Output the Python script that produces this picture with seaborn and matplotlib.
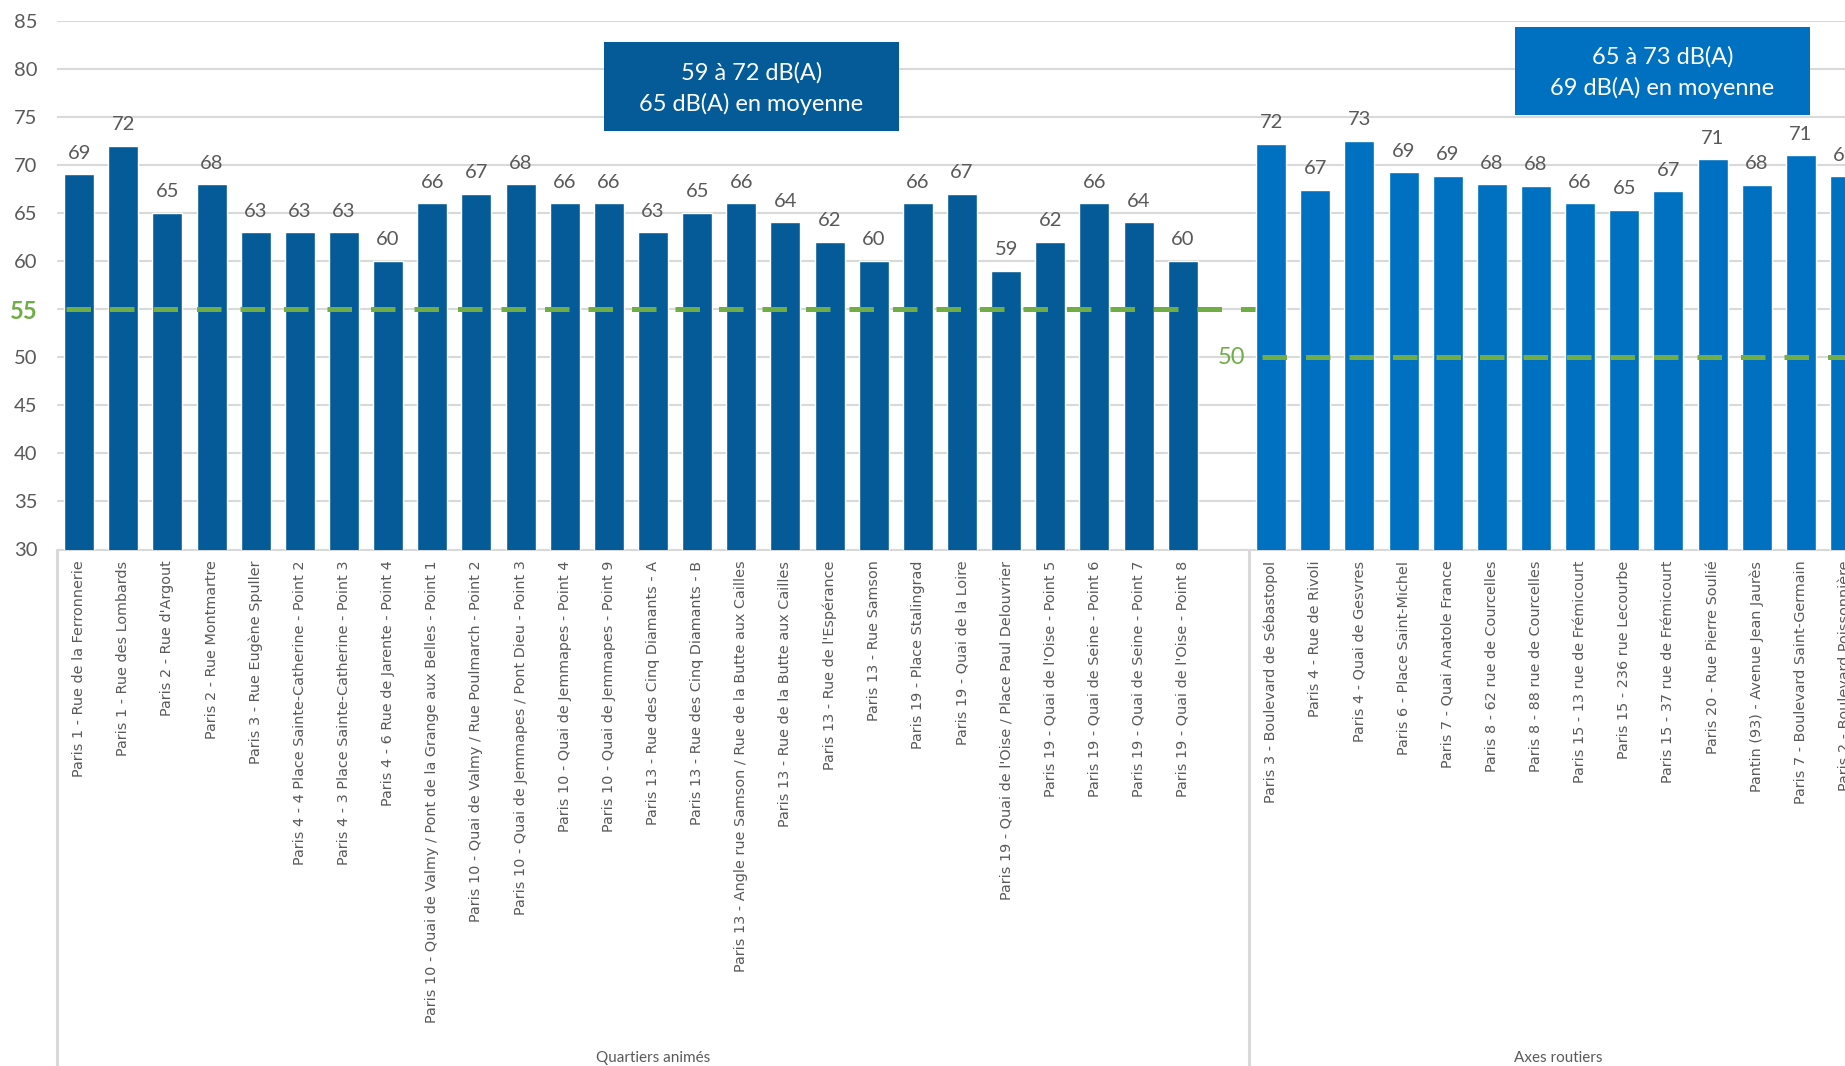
import numpy as np
import pandas as pd
import matplotlib
matplotlib.use("Agg")
import matplotlib.pyplot as plt
import matplotlib.transforms as mtransforms
from matplotlib.patches import Rectangle
import seaborn as sns

# ---------------- data ----------------
quartiers_labels = [
    "Paris 1 - Rue de la Ferronnerie",
    "Paris 1 - Rue des Lombards",
    "Paris 2 - Rue d'Argout",
    "Paris 2 - Rue Montmartre",
    "Paris 3 - Rue Eugène Spuller",
    "Paris 4 - 4 Place Sainte-Catherine - Point 2",
    "Paris 4 - 3 Place Sainte-Catherine - Point 3",
    "Paris 4 - 6 Rue de Jarente - Point 4",
    "Paris 10 - Quai de Valmy / Pont de la Grange aux Belles - Point 1",
    "Paris 10 - Quai de Valmy / Rue Poulmarch - Point 2",
    "Paris 10 - Quai de Jemmapes / Pont Dieu - Point 3",
    "Paris 10 - Quai de Jemmapes - Point 4",
    "Paris 10 - Quai de Jemmapes - Point 9",
    "Paris 13 - Rue des Cinq Diamants - A",
    "Paris 13 - Rue des Cinq Diamants - B",
    "Paris 13 - Angle rue Samson / Rue de la Butte aux Cailles",
    "Paris 13 - Rue de la Butte aux Cailles",
    "Paris 13 - Rue de l'Espérance",
    "Paris 13 - Rue Samson",
    "Paris 19 - Place Stalingrad",
    "Paris 19 - Quai de la Loire",
    "Paris 19 - Quai de l'Oise / Place Paul Delouvrier",
    "Paris 19 - Quai de l'Oise - Point 5",
    "Paris 19 - Quai de Seine - Point 6",
    "Paris 19 - Quai de Seine - Point 7",
    "Paris 19 - Quai de l'Oise - Point 8",
]
quartiers_values = [69, 72, 65, 68, 63, 63, 63, 60, 66, 67, 68, 66, 66,
                    63, 65, 66, 64, 62, 60, 66, 67, 59, 62, 66, 64, 60]

routes_labels = [
    "Paris 3 - Boulevard de Sébastopol",
    "Paris 4 - Rue de Rivoli",
    "Paris 4 - Quai de Gesvres",
    "Paris 6 - Place Saint-Michel",
    "Paris 7 - Quai Anatole France",
    "Paris 8 - 62 rue de Courcelles",
    "Paris 8 - 88 rue de Courcelles",
    "Paris 15 - 13 rue de Frémicourt",
    "Paris 15 - 236 rue Lecourbe",
    "Paris 15 - 37 rue de Frémicourt",
    "Paris 20 - Rue Pierre Soulié",
    "Pantin (93) - Avenue Jean Jaurès",
    "Paris 7 - Boulevard Saint-Germain",
    "Paris 2 - Boulevard Poissonnière",
]
routes_values = [72.2, 67.4, 72.5, 69.2, 68.85, 68.0, 67.8, 66.0, 65.3,
                 67.25, 70.6, 67.9, 71.0, 68.8]

group_names = ["Quartiers animés", "Axes routiers"]
seuils = [55, 50]
box_quartiers = ["59 à 72 dB(A)", "65 dB(A) en moyenne"]
box_routes = ["65 à 73 dB(A)", "69 dB(A) en moyenne"]
yticks = list(range(30, 90, 5))

# ---------------- style ----------------
C_Q = "#045B97"
C_R = "#0070C0"
GREEN = "#70AD47"
GREY = "#595959"
GRID = "#D9D9D9"

sns.set_theme(style="white")
plt.rcParams["font.family"] = ["DejaVu Sans"]

W, H = 1845, 1066
fig = plt.figure(figsize=(W / 100, H / 100), dpi=100)

left_px, top_px, bottom_px = 57, 20.5, 549.5
ax = fig.add_axes([left_px / W, 1 - bottom_px / H, 1 - left_px / W, (bottom_px - top_px) / H])

df = pd.DataFrame({
    "lieu": quartiers_labels + routes_labels,
    "niveau": quartiers_values + routes_values,
    "groupe": [group_names[0]] * len(quartiers_labels) + [group_names[1]] * len(routes_labels),
})
gap_label = " "
order = quartiers_labels + [gap_label] + routes_labels

sns.barplot(data=df, x="lieu", y="niveau", hue="groupe", order=order,
            hue_order=group_names, palette={group_names[0]: C_Q, group_names[1]: C_R},
            dodge=False, width=0.68, saturation=1, errorbar=None, legend=False,
            ax=ax, zorder=2)

nq = len(quartiers_labels)
last = len(order) - 1
ax.set_xlim(-0.5, last)
ax.set_ylim(30, 85)

# value labels
for cont in ax.containers:
    ax.bar_label(cont, fmt=lambda v: f"{int(np.floor(v + 0.5))}", padding=9,
                 fontsize=14.5, color=GREY, family="Lato")

# grid & spines
ax.set_yticks(yticks)
ax.set_yticklabels([str(t) for t in yticks])
ax.yaxis.grid(True, color=GRID, lw=1.5)
ax.set_axisbelow(True)
for s in ["left", "right", "top"]:
    ax.spines[s].set_visible(False)
ax.spines["bottom"].set_color(GRID)
ax.spines["bottom"].set_linewidth(1.5)
ax.spines["bottom"].set_zorder(1)

ax.tick_params(axis="y", length=0, pad=14, labelsize=14.5, labelcolor=GREY)
for lbl in ax.get_yticklabels():
    lbl.set_family("Lato")
    if lbl.get_text() == str(seuils[0]):
        lbl.set_color(GREEN)
        lbl.set_fontweight("bold")
        lbl.set_fontsize(17)

ax.tick_params(axis="x", length=0, pad=8, labelsize=10.4, labelcolor=GREY)
plt.setp(ax.get_xticklabels(), rotation=90)
ax.set_xlabel("")
ax.set_ylabel("")

# threshold dashed lines
dash = (0, (4.9, 3.8))
ax.plot([-0.29, nq + 0.63], [seuils[0]] * 2, color=GREEN, lw=3.6,
        linestyle=dash, solid_capstyle="butt", dash_capstyle="butt", zorder=3)
ax.plot([nq + 0.79, last + 1], [seuils[1]] * 2, color=GREEN, lw=3.6,
        linestyle=dash, solid_capstyle="butt", dash_capstyle="butt", zorder=3)
ax.text(nq + 0.41, seuils[1], str(seuils[1]), ha="right", va="center",
        color=GREEN, fontsize=17, family="Lato", zorder=4)

# group separators and group labels
trans = mtransforms.blended_transform_factory(ax.transData, ax.transAxes)
ax_h = bottom_px - top_px
for xs in [-0.5, nq + 0.5]:
    ax.plot([xs, xs], [0, -(H - bottom_px) / ax_h], transform=trans,
            color=GRID, lw=2.2, clip_on=False, zorder=1)
gy = -(1058 - bottom_px) / ax_h
ax.text((-0.5 + nq + 0.5) / 2, gy, group_names[0], transform=trans, ha="center",
        va="center", fontsize=11, color=GREY, family="Lato")
ax.text((nq + 0.5 + len(order) - 0.5) / 2, gy, group_names[1], transform=trans,
        ha="center", va="center", fontsize=11, color=GREY, family="Lato")

# annotation boxes
def add_box(x0, y0, x1, y1, color, lines, ly):
    fig.patches.append(Rectangle((x0 / W, 1 - y1 / H), (x1 - x0) / W, (y1 - y0) / H,
                                 transform=fig.transFigure, facecolor=color,
                                 edgecolor="none", zorder=5))
    cx = (x0 + x1) / 2 / W
    for t, yy in zip(lines, ly):
        fig.text(cx, 1 - yy / H, t, ha="center", va="center", color="white",
                 fontsize=17, family="Lato", zorder=6)

add_box(603.6, 42.3, 898.7, 131.2, C_Q, box_quartiers, [72.5, 103.5])
add_box(1515, 27, 1810, 115.4, C_R, box_routes, [56.5, 87.5])

fig.savefig("out.png", dpi=100)
